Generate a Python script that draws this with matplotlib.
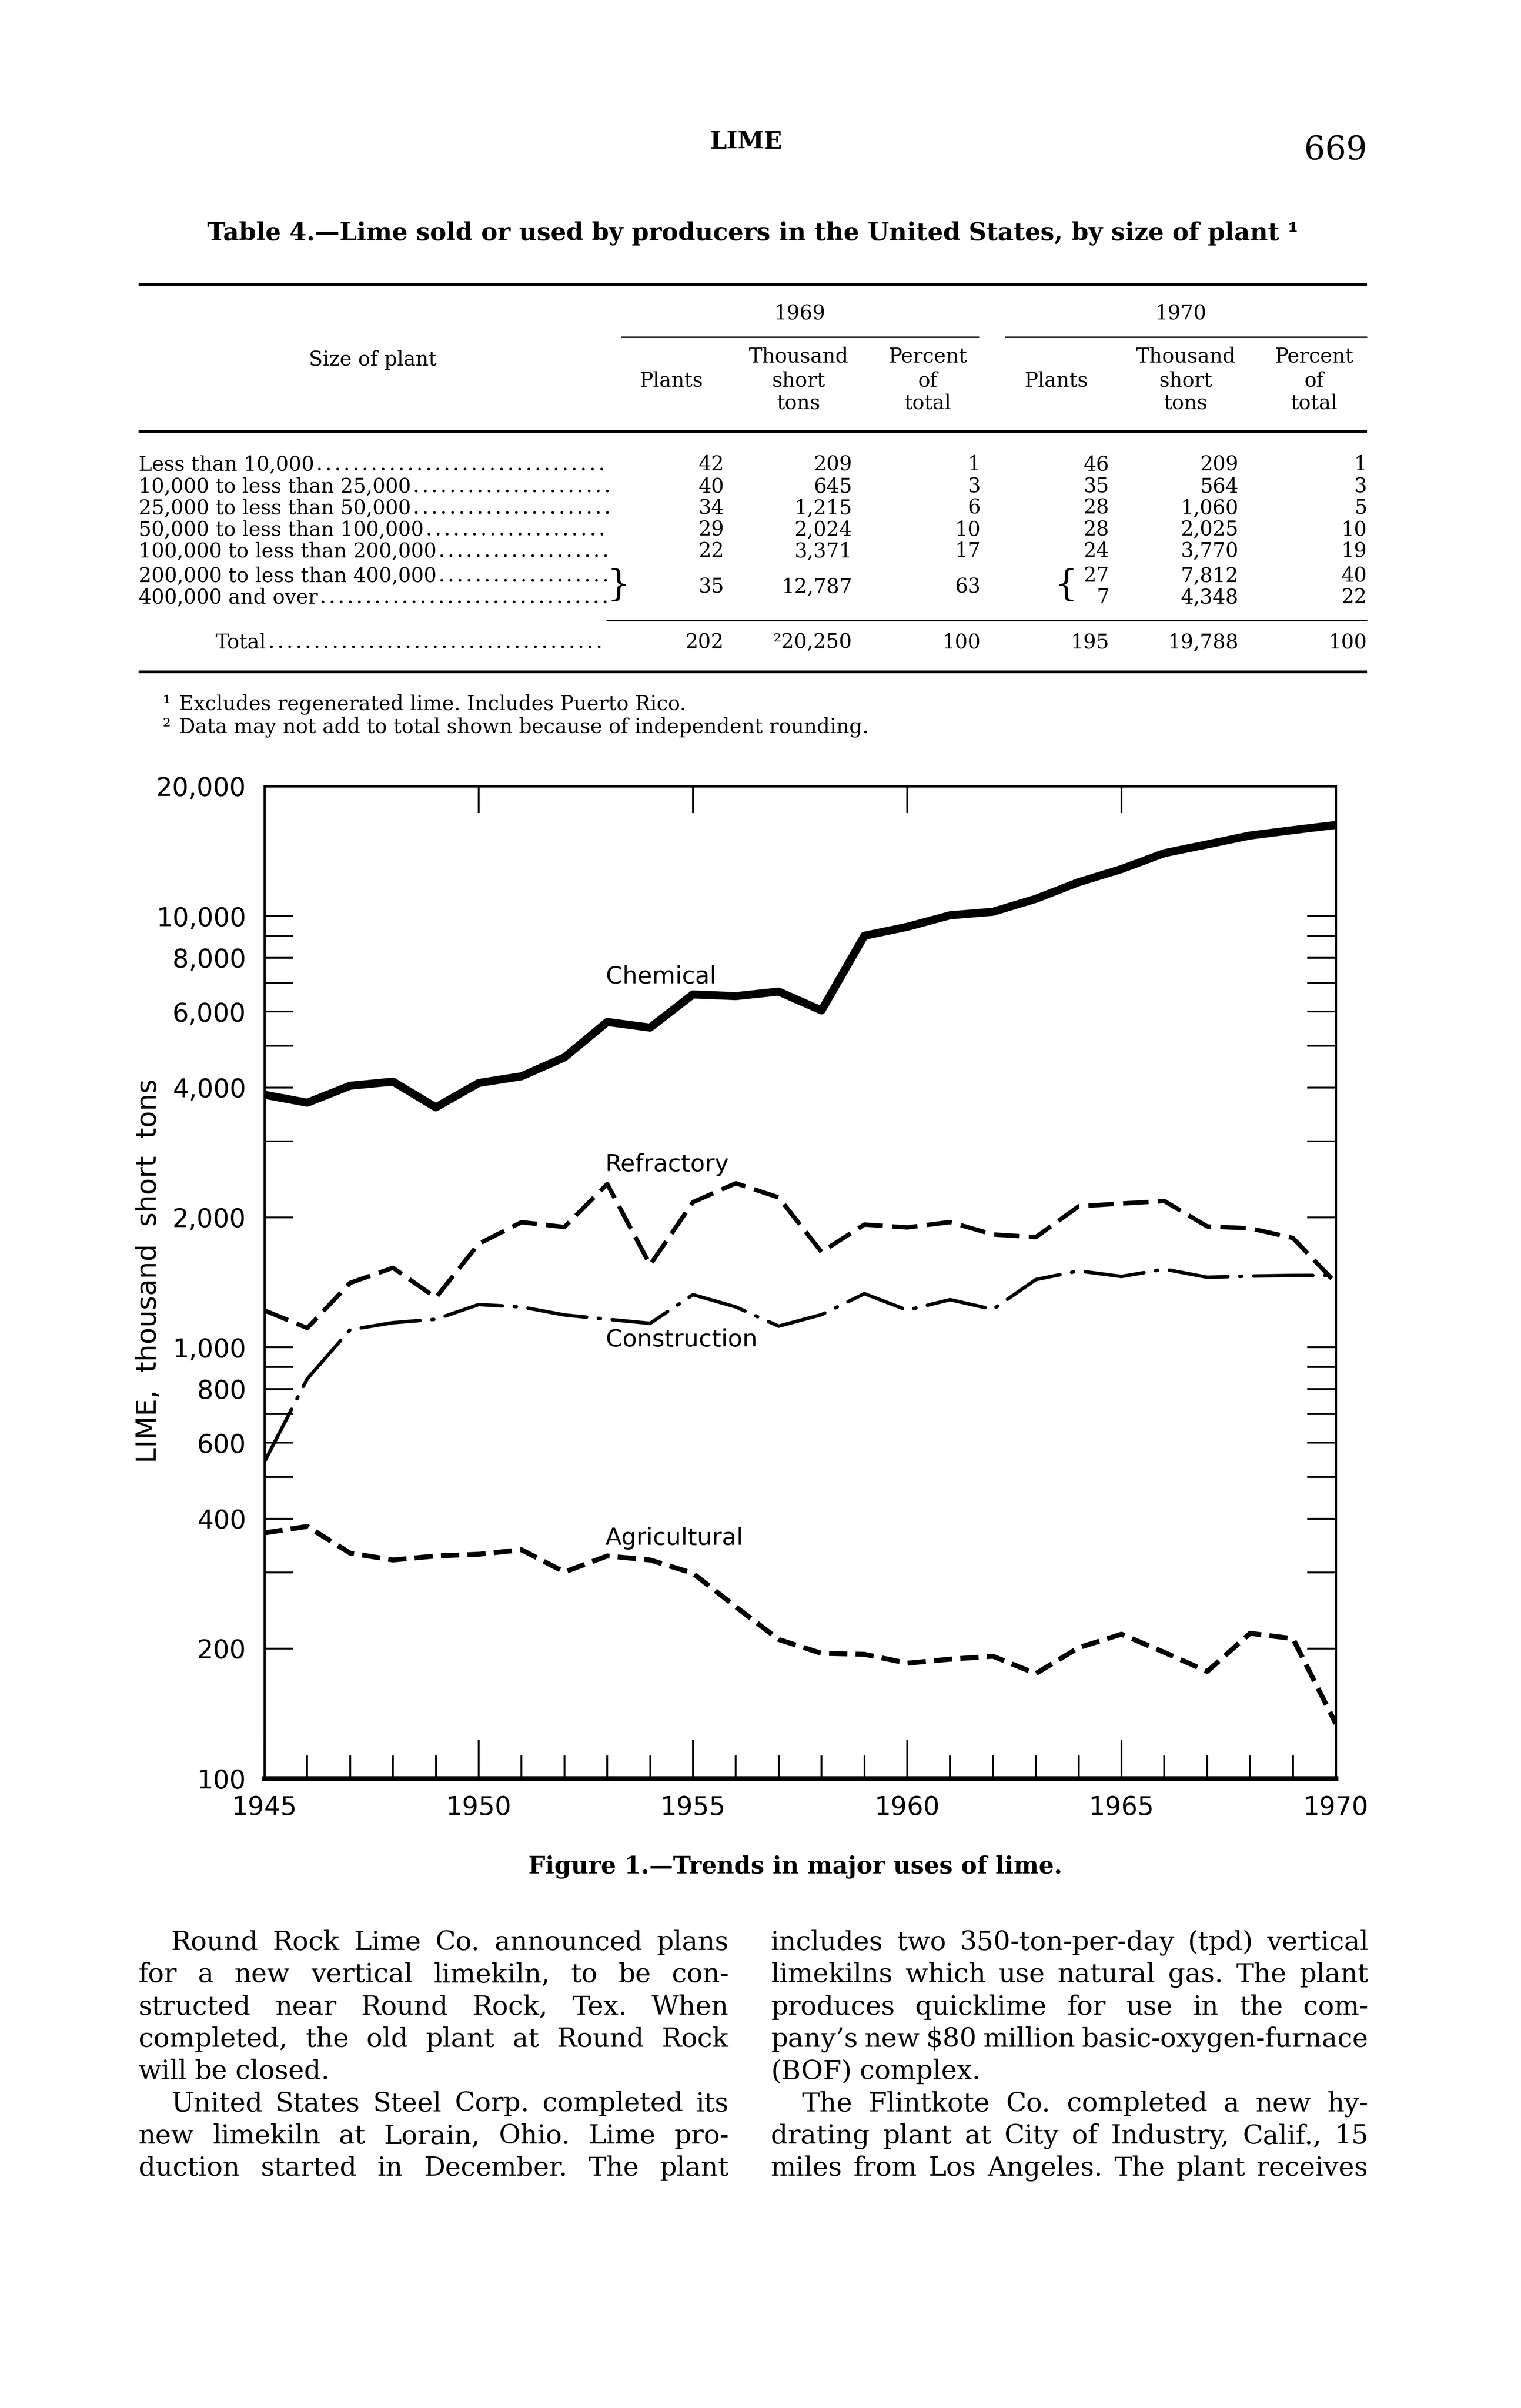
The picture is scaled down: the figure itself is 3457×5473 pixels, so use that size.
import matplotlib
matplotlib.use('Agg')
import matplotlib.pyplot as plt
from matplotlib.ticker import FixedLocator, NullFormatter

# Page size in pixels (output is 3457 x 5473 at 300 dpi)
W, H = 3457, 5473
DPI = 300
SERIF = 'DejaVu Serif'
SANS = 'DejaVu Sans'

# ---- chart data (thousand short tons) ----
years = list(range(1945, 1971))
chemical = [3850, 3690, 4040, 4130, 3600, 4100, 4250, 4700, 5680, 5510, 6580, 6520, 6680,
            6040, 9000, 9440, 10040, 10230, 10960, 11980, 12850, 13990, 14660, 15370, 15820, 16260]
refractory = [1217, 1108, 1410, 1528, 1303, 1737, 1950, 1900, 2390, 1552, 2170, 2400, 2225,
              1663, 1925, 1896, 1951, 1826, 1800, 2122, 2154, 2183, 1906, 1887, 1792, 1410]
construction = [542, 845, 1098, 1140, 1161, 1256, 1240, 1188, 1161, 1136, 1324, 1240, 1119,
                1190, 1331, 1219, 1289, 1224, 1435, 1503, 1459, 1517, 1453, 1462, 1467, 1468]
agricultural = [371, 384, 333, 321, 328, 331, 339, 301, 328, 321, 299, 250, 210,
                195, 194, 185, 189, 192, 175, 201, 216, 196, 177, 217, 211, 134]

x_ticks = [1945, 1950, 1955, 1960, 1965, 1970]
x_labels = ['1945', '1950', '1955', '1960', '1965', '1970']
top_ticks = [1950, 1955, 1960, 1965]
y_ticks = [100, 200, 400, 600, 800, 1000, 2000, 4000, 6000, 8000, 10000, 20000]
y_labels = ['100', '200', '400', '600', '800', '1,000', '2,000', '4,000', '6,000',
            '8,000', '10,000', '20,000']
y_minor = [300, 500, 700, 900, 3000, 5000, 7000, 9000]

# ---- table data ----
sizes = ['Less than 10,000', '10,000 to less than 25,000', '25,000 to less than 50,000',
         '50,000 to less than 100,000', '100,000 to less than 200,000',
         '200,000 to less than 400,000', '400,000 and over']
plants_1969 = ['42', '40', '34', '29', '22']
tons_1969 = ['209', '645', '1,215', '2,024', '3,371']
pct_1969 = ['1', '3', '6', '10', '17']
merged_1969 = ['35', '12,787', '63']
plants_1970 = ['46', '35', '28', '28', '24', '27', '7']
tons_1970 = ['209', '564', '1,060', '2,025', '3,770', '7,812', '4,348']
pct_1970 = ['1', '3', '5', '10', '19', '40', '22']
totals = ['202', '\u00b220,250', '100', '195', '19,788', '100']

# ---- body text ----
left_col = [
    ('Round Rock Lime Co. announced plans', True, False),
    ('for a new vertical limekiln, to be con-', False, False),
    ('structed near Round Rock, Tex. When', False, False),
    ('completed, the old plant at Round Rock', False, False),
    ('will be closed.', False, True),
    ('United States Steel Corp. completed its', True, False),
    ('new limekiln at Lorain, Ohio. Lime pro-', False, False),
    ('duction started in December. The plant', False, False),
]
right_col = [
    ('includes two 350-ton-per-day (tpd) vertical', False, False),
    ('limekilns which use natural gas. The plant', False, False),
    ('produces quicklime for use in the com-', False, False),
    ('pany\u2019s new \\$80 million basic-oxygen-furnace', False, False),
    ('(BOF) complex.', False, True),
    ('The Flintkote Co. completed a new hy-', True, False),
    ('drating plant at City of Industry, Calif., 15', False, False),
    ('miles from Los Angeles. The plant receives', False, False),
]

fig = plt.figure(figsize=(W / DPI, H / DPI), dpi=DPI, facecolor='white')
page = fig.add_axes([0, 0, 1, 1])
page.set_xlim(0, W)
page.set_ylim(H, 0)
page.axis('off')
renderer = fig.canvas.get_renderer()


def put(x, y, s, size, ha='left', va='baseline', weight='normal', family=SERIF, **kw):
    return page.text(x, y, s, fontsize=size, ha=ha, va=va, fontweight=weight,
                     family=family, **kw)


def rule(x0, x1, y, lw):
    page.plot([x0, x1], [y, y], color='black', lw=lw, solid_capstyle='butt')


def leader(t, x_end, y):
    # dotted leader from the end of a row label
    x0 = t.get_window_extent(renderer).x1 + 12
    page.plot([x0, x_end], [y, y], color='black', lw=1.5, ls=(0, (0.01, 3.3)),
              dash_capstyle='round')


def justify(line, x0, x1, y, size, last=False):
    words = line.split()
    objs = [put(x0, y, w, size) for w in words]
    ws = [o.get_window_extent(renderer).width for o in objs]
    space = size * DPI / 72 * 0.3
    if last or len(words) == 1:
        gap = space
    else:
        gap = (x1 - x0 - sum(ws)) / (len(words) - 1)
        if gap < 0.45 * space:
            # line too long for the measure: shrink it a little
            k = (x1 - x0 - 0.45 * space * (len(words) - 1)) / sum(ws)
            for o in objs:
                o.set_fontsize(size * k)
            ws = [w * k for w in ws]
            gap = 0.45 * space
    x = x0
    for o, w in zip(objs, ws):
        o.set_x(x)
        x += w + gap


# ---- running head ----
put(1696, 323, 'LIME', 13, ha='center', va='center', weight='bold')
put(3107, 342, '669', 18, ha='right', va='center')
put(1711, 530, 'Table 4.\u2014Lime sold or used by producers in the United States, by size of plant \u00b9',
    13.4, ha='center', va='center', weight='bold')

# ---- table ----
TS = 11
L, R = 315, 3107
cols = [1646, 1937, 2229, 2521, 2815, 3107]
rule(L, R, 647, 1.5)
put(1818, 713, '1969', TS, ha='center', va='center')
put(2684, 713, '1970', TS, ha='center', va='center')
rule(1411, 2225, 766, 0.8)
rule(2284, R, 766, 0.8)
put(847, 818, 'Size of plant', TS, ha='center', va='center')
for cx in (1526, 2401):
    put(cx, 866, 'Plants', TS, ha='center', va='center')
for cx in (1815, 2695):
    for yy, s in zip((811, 866, 917), ('Thousand', 'short', 'tons')):
        put(cx, yy, s, TS, ha='center', va='center')
for cx in (2109, 2987):
    for yy, s in zip((811, 866, 917), ('Percent', 'of', 'total')):
        put(cx, yy, s, TS, ha='center', va='center')
rule(L, R, 981, 1.5)

row_y = [1053, 1103, 1152, 1201, 1250, 1306, 1355]
merged_y = 1331
base = 16
for i, lab in enumerate(sizes):
    t = put(L, row_y[i] + base, lab, TS)
    leader(t, 1382, row_y[i] + base - 3)
for i in range(5):
    for cx, v in zip(cols[:3], (plants_1969[i], tons_1969[i], pct_1969[i])):
        put(cx, row_y[i] + base, v, TS, ha='right')
for cx, v in zip(cols[:3], merged_1969):
    put(cx, merged_y + base, v, TS, ha='right')
for i in range(7):
    for cx, v in zip(cols[3:], (plants_1970[i], tons_1970[i], pct_1970[i])):
        put(cx, row_y[i] + base, v, TS, ha='right')
put(1406, merged_y, '}', 20, ha='center', va='center', weight='light')
put(2423, merged_y, '{', 20, ha='center', va='center', weight='light')

rule(1378, R, 1410, 0.8)
total_y = 1457
t = put(490, total_y + base, 'Total', TS)
leader(t, 1382, total_y + base - 3)
for cx, v in zip(cols, totals):
    put(cx, total_y + base, v, TS, ha='right')
rule(L, R, 1527, 1.5)

put(370, 1597 + base, '\u00b9', TS)
put(407, 1597 + base, 'Excludes regenerated lime. Includes Puerto Rico.', TS)
put(370, 1650 + base, '\u00b2', TS)
put(407, 1650 + base, 'Data may not add to total shown because of independent rounding.', TS)

# ---- chart ----
ax = fig.add_axes([601 / W, 1 - 4042 / H, (3036 - 601) / W, (4042 - 1787) / H])
ax.set_yscale('log')
ax.plot(years, chemical, color='black', lw=4.4, solid_joinstyle='round')
ax.plot(years, refractory, color='black', lw=2.4, ls=(0, (5.8, 2.1)),
        dash_capstyle='butt', dash_joinstyle='round')
ax.plot(years, construction, color='black', lw=1.9, ls=(0, (17, 3.4, 0.6, 3.4)),
        dash_capstyle='round', dash_joinstyle='round')
ax.plot(years, agricultural, color='black', lw=2.7, ls=(0, (3.7, 1.65)),
        dash_capstyle='butt', dash_joinstyle='round')
ax.set_xlim(1945, 1970)
ax.set_ylim(100, 20000)

# series names
ax.text(1952.97, 7230, 'Chemical', fontsize=13, family=SANS, va='center')
ax.text(1952.95, 2650, 'Refractory', fontsize=13, family=SANS, va='center')
ax.text(1952.97, 1040, 'Construction', fontsize=13, family=SANS, va='center')
ax.text(1952.95, 361, 'Agricultural', fontsize=13, family=SANS, va='center')

# axes frame and ticks
for side in ('left', 'right', 'top'):
    ax.spines[side].set_linewidth(1.2)
ax.spines['bottom'].set_linewidth(2.6)
ax.set_xticks(x_ticks, x_labels)
ax.xaxis.set_minor_locator(FixedLocator(years))
ax.tick_params(axis='x', which='major', direction='in', length=21, width=1.0, pad=9,
               labelsize=14, top=False)
ax.tick_params(axis='x', which='minor', direction='in', length=12.5, width=1.0, top=False)
ax.set_yticks(y_ticks, y_labels)
ax.yaxis.set_minor_locator(FixedLocator(y_minor))
ax.yaxis.set_minor_formatter(NullFormatter())
ax.tick_params(axis='y', which='both', direction='in', length=15.6, width=1.0,
               left=True, right=True, labelsize=14, pad=10)
sec = ax.secondary_xaxis('top')
sec.set_xticks(top_ticks)
sec.tick_params(direction='in', length=14.6, width=1.0, labeltop=False)
sec.spines['top'].set_linewidth(1.2)

put(338, 2889, 'LIME,  thousand  short  tons', 15, ha='center', va='center',
    family=SANS, rotation=90)
put(1808, 4243, 'Figure 1.\u2014Trends in major uses of lime.', 13, ha='center',
    va='center', weight='bold')

# ---- body text, two justified columns ----
BS = 14.5
line_y = [4432 + 73.3 * i for i in range(8)]
for (s, indent, last), y in zip(left_col, line_y):
    justify(s, 389 if indent else 315, 1656, y, BS, last)
for (s, indent, last), y in zip(right_col, line_y):
    justify(s, 1822 if indent else 1752, 3110, y, BS, last)

fig.savefig('out.png', dpi=DPI, facecolor='white')
